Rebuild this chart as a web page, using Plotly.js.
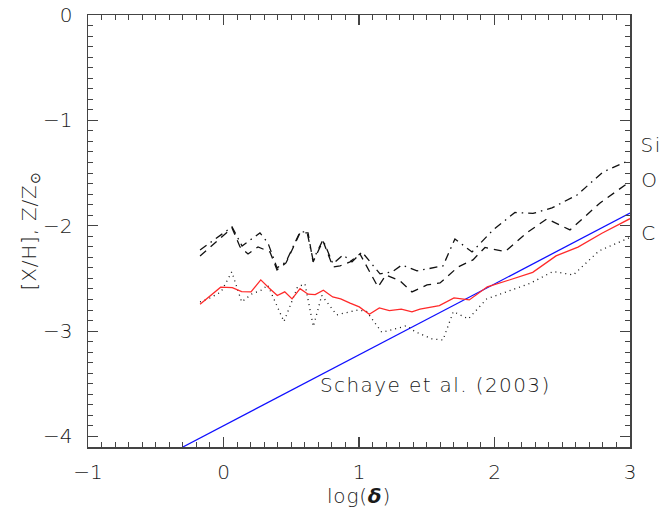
<!DOCTYPE html>
<html>
<head>
<meta charset="utf-8">
<script src="https://cdn.plot.ly/plotly-3.0.1.min.js"></script>
<style>
  html, body { margin: 0; padding: 0; background: #fff; }
  #chart { width: 668px; height: 510px; }
  /* wider tracking for the text labels */
  #chart .annotation-text { letter-spacing: 1.4px; }
  #chart .xtitle, #chart .ytitle { letter-spacing: 0.8px; }
</style>
</head>
<body>
<div id="chart"></div>
<script>
// Metallicity versus overdensity, log(delta)

// Total metallicity Z/Zsun (red)
const zX = [-0.173, -0.021, 0.065, 0.134, 0.203, 0.275, 0.338, 0.397, 0.452, 0.506,
            0.565, 0.624, 0.677, 0.737, 0.806, 0.865, 0.934, 1.002, 1.076, 1.150,
            1.224, 1.312, 1.391, 1.450, 1.593, 1.701, 1.814, 1.947, 2.109, 2.282,
            2.454, 2.616, 2.793, 2.939, 3.000];
const zY = [-2.745, -2.583, -2.587, -2.625, -2.628, -2.514, -2.593, -2.663, -2.628, -2.694,
            -2.597, -2.650, -2.654, -2.612, -2.676, -2.694, -2.735, -2.770, -2.840, -2.780,
            -2.805, -2.792, -2.818, -2.792, -2.758, -2.685, -2.704, -2.580, -2.515, -2.442,
            -2.286, -2.203, -2.071, -1.978, -1.933];

// [C/H] (dotted)
const cX = [-0.173, -0.100, -0.018, 0.061, 0.134, 0.210, 0.284, 0.326, 0.446, 0.546,
            0.601, 0.663, 0.725, 0.835, 0.995, 1.057, 1.168, 1.352, 1.413, 1.539,
            1.620, 1.696, 1.807, 1.942, 2.262, 2.432, 2.582, 2.771, 3.000];
const cY = [-2.723, -2.685, -2.628, -2.438, -2.723, -2.647, -2.609, -2.562, -2.910, -2.581,
            -2.552, -2.957, -2.661, -2.846, -2.799, -2.815, -3.012, -2.949, -3.005, -3.074,
            -3.084, -2.815, -2.884, -2.695, -2.547, -2.434, -2.467, -2.239, -2.111];

// [O/H] (dashed)
const oX = [-0.173, -0.063, 0.063, 0.122, 0.181, 0.255, 0.343, 0.395, 0.461, 0.565,
            0.624, 0.661, 0.734, 0.808, 0.860, 0.934, 1.007, 1.140, 1.199, 1.303,
            1.391, 1.502, 1.598, 1.731, 1.841, 1.930, 2.077, 2.247, 2.387, 2.557,
            2.779, 3.000];
const oY = [-2.287, -2.163, -2.021, -2.201, -2.268, -2.201, -2.249, -2.419, -2.353, -2.068,
            -2.068, -2.343, -2.144, -2.391, -2.381, -2.343, -2.268, -2.581, -2.467, -2.524,
            -2.628, -2.562, -2.543, -2.391, -2.324, -2.206, -2.246, -2.059, -1.935, -2.040,
            -1.784, -1.580];

// [Si/H] (dash-dot)
const siX = [-0.173, 0.063, 0.137, 0.269, 0.328, 0.395, 0.461, 0.565, 0.616, 0.661,
             0.734, 0.808, 0.882, 0.948, 1.022, 1.155, 1.244, 1.317, 1.428, 1.620,
             1.708, 1.834, 1.989, 2.151, 2.284, 2.424, 2.609, 2.801, 3.000];
const siY = [-2.230, -2.011, -2.192, -2.068, -2.163, -2.400, -2.343, -2.059, -2.059, -2.324,
             -2.135, -2.362, -2.277, -2.343, -2.249, -2.457, -2.438, -2.372, -2.429, -2.381,
             -2.125, -2.249, -2.040, -1.874, -1.883, -1.831, -1.708, -1.490, -1.376];

// Schaye et al. (2003) fit (blue straight line)
const fitX = [-0.3, 3.0];
const fitY = [-4.1, -1.88];

// Element labels on the right edge
const elemLabels = ['Si', 'O', 'C'];
const elemLabelY = [-1.23, -1.57, -2.07];

const textFont = { family: 'DejaVu Sans, sans-serif', size: 20, color: '#1a1a1a', weight: 300 };

const traces = [
  { x: fitX, y: fitY, mode: 'lines', line: { color: '#1010ff', width: 1.3 }, hoverinfo: 'skip' },
  { x: cX, y: cY, mode: 'lines', line: { color: '#111', width: 1.3, dash: '1px,4px' } },
  { x: oX, y: oY, mode: 'lines', line: { color: '#111', width: 1.3, dash: '8px,6px' } },
  { x: siX, y: siY, mode: 'lines', line: { color: '#111', width: 1.3, dash: '8px,5px,1.5px,5px' } },
  { x: zX, y: zY, mode: 'lines', line: { color: '#ff2a2a', width: 1.3 } }
];

const annotations = elemLabels.map((t, i) => ({
  text: t, xref: 'paper', yref: 'y', x: 1.018, y: elemLabelY[i],
  xanchor: 'left', yanchor: 'middle', showarrow: false, font: textFont
}));
annotations.push({
  text: 'Schaye et al. (2003)', xref: 'x', yref: 'y', x: 0.80, y: -3.51,
  xanchor: 'left', yanchor: 'middle', showarrow: false, font: textFont
});

const axisCommon = {
  showgrid: false, zeroline: false, showline: true, linecolor: '#444', linewidth: 1.5,
  mirror: 'allticks', ticks: 'inside', ticklen: 10, tickwidth: 1.2, tickcolor: '#444',
  tickfont: textFont,
  minor: { dtick: 0.1, ticks: 'inside', ticklen: 5, tickwidth: 1, tickcolor: '#444', showgrid: false }
};

const layout = {
  width: 668, height: 510,
  margin: { l: 88, r: 38, t: 15, b: 63 },
  paper_bgcolor: '#fff', plot_bgcolor: '#fff',
  showlegend: false,
  xaxis: Object.assign({}, axisCommon, {
    range: [-1, 3], dtick: 1, tick0: 0,
    ticklabelstandoff: 6,
    title: { text: 'log(<b><i>δ</i></b>)', font: textFont, standoff: 6 }
  }),
  yaxis: Object.assign({}, axisCommon, {
    range: [-4.1, 0], dtick: 1, tick0: 0,
    ticklabelstandoff: 10,
    title: { text: '[X/H], Z/Z<sub>⊙</sub>', font: textFont, standoff: 0 }
  }),
  annotations: annotations
};

Plotly.newPlot('chart', traces, layout, { displayModeBar: false, staticPlot: true });
</script>
</body>
</html>
